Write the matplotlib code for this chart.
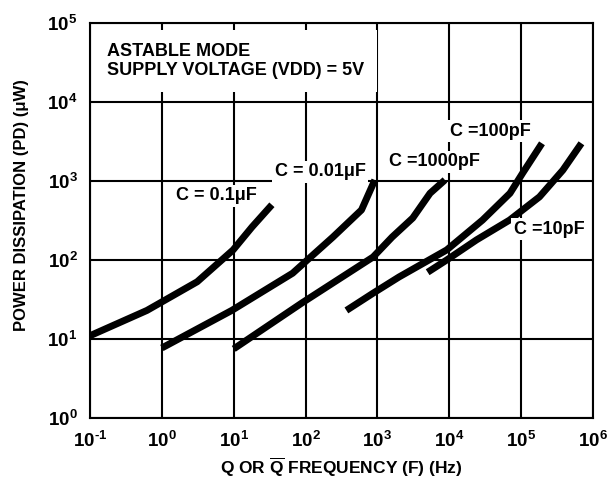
import matplotlib
matplotlib.use("Agg")
import matplotlib.pyplot as plt

plt.rcParams["font.family"] = ["Liberation Sans", "DejaVu Sans"]
plt.rcParams["font.weight"] = "bold"
plt.rcParams["mathtext.fontset"] = "custom"
plt.rcParams["mathtext.rm"] = "Liberation Sans:bold"
plt.rcParams["mathtext.bf"] = "Liberation Sans:bold"
plt.rcParams["mathtext.it"] = "Liberation Sans:bold"

# curves: frequency (Hz) and power dissipation (uW)
freq_0_1uF = [0.1, 0.62, 3.1, 9.8, 18, 34]
pd_0_1uF = [11, 23, 53, 134, 262, 500]

freq_0_01uF = [1.0, 9.4, 66, 98, 240, 600, 920]
pd_0_01uF = [7.7, 23, 68, 94, 195, 430, 1030]

freq_1000pF = [10, 91, 870, 1600, 3100, 5400, 8700]
pd_1000pF = [7.5, 29, 109, 195, 340, 700, 1030]

freq_100pF = [370, 870, 2000, 9200, 29000, 70000, 105000, 195000]
pd_100pF = [23, 38, 61, 134, 320, 700, 1260, 3000]

freq_10pF = [5000, 9200, 24000, 69000, 180000, 380000, 690000]
pd_10pF = [70, 100, 180, 320, 630, 1370, 3000]

x_ticks = [1e-1, 1e0, 1e1, 1e2, 1e3, 1e4, 1e5, 1e6]
x_labels = [r"$\mathbf{10^{\text{-}1}}$", r"$\mathbf{10^{0}}$", r"$\mathbf{10^{1}}$",
            r"$\mathbf{10^{2}}$", r"$\mathbf{10^{3}}$", r"$\mathbf{10^{4}}$",
            r"$\mathbf{10^{5}}$", r"$\mathbf{10^{6}}$"]
y_ticks = [1e0, 1e1, 1e2, 1e3, 1e4, 1e5]
y_labels = [r"$\mathbf{10^{0}}$", r"$\mathbf{10^{1}}$", r"$\mathbf{10^{2}}$",
            r"$\mathbf{10^{3}}$", r"$\mathbf{10^{4}}$", r"$\mathbf{10^{5}}$"]

fig = plt.figure(figsize=(6.12, 4.83), dpi=100)
ax = fig.add_axes([90 / 612, 65 / 483, 503 / 612, 395 / 483])
ax.set_xscale("log")
ax.set_yscale("log")
ax.set_xlim(1e-1, 1e6)
ax.set_ylim(1e0, 1e5)

ax.set_xticks(x_ticks)
ax.set_xticklabels(x_labels, fontsize=13.5)
ax.set_yticks(y_ticks)
ax.set_yticklabels(y_labels, fontsize=13.5)
ax.minorticks_off()
ax.tick_params(axis="x", length=0, pad=9)
ax.tick_params(axis="y", length=0, pad=9)
ax.grid(True, color="black", linewidth=1.5, zorder=1)
ax.set_axisbelow(True)
for s in ax.spines.values():
    s.set_linewidth(1.5)

curves = [
    (freq_0_1uF, pd_0_1uF),
    (freq_0_01uF, pd_0_01uF),
    (freq_1000pF, pd_1000pF),
    (freq_100pF, pd_100pF),
    (freq_10pF, pd_10pF),
]
for f, p in curves:
    ax.plot(f, p, color="black", linewidth=5, solid_capstyle="butt",
            solid_joinstyle="round", zorder=2)

box = dict(facecolor="white", edgecolor="none", pad=2)
ax.text(0.172, 3.3e4, "ASTABLE MODE\nSUPPLY VOLTAGE (VDD) = 5V", fontsize=13,
        va="center", ha="left", linespacing=1.2, zorder=3,
        bbox=dict(facecolor="white", edgecolor="none", pad=9))
ax.text(1.57, 646, "C = 0.1μF", fontsize=13, va="center", ha="left", zorder=3, bbox=box)
ax.text(37.4, 1300, "C = 0.01μF", fontsize=13, va="center", ha="left", zorder=3, bbox=box)
ax.text(1440, 1740, "C =1000pF", fontsize=13, va="center", ha="left", zorder=3, bbox=box)
ax.text(10200, 4270, "C =100pF", fontsize=13, va="center", ha="left", zorder=3, bbox=box)
ax.text(78900, 246, "C =10pF", fontsize=13, va="center", ha="left", zorder=3, bbox=box)

fig.text(341 / 612, 1 - 467 / 483, r"Q OR $\mathbf{\overline{Q}}$ FREQUENCY (F) (Hz)",
         fontsize=12.5, ha="center", va="center")
fig.text(22 / 612, 1 - 205 / 483, "POWER DISSIPATION (PD) (μW)", fontsize=12,
         rotation=90, ha="center", va="center")

fig.savefig("out.png", dpi=100)
